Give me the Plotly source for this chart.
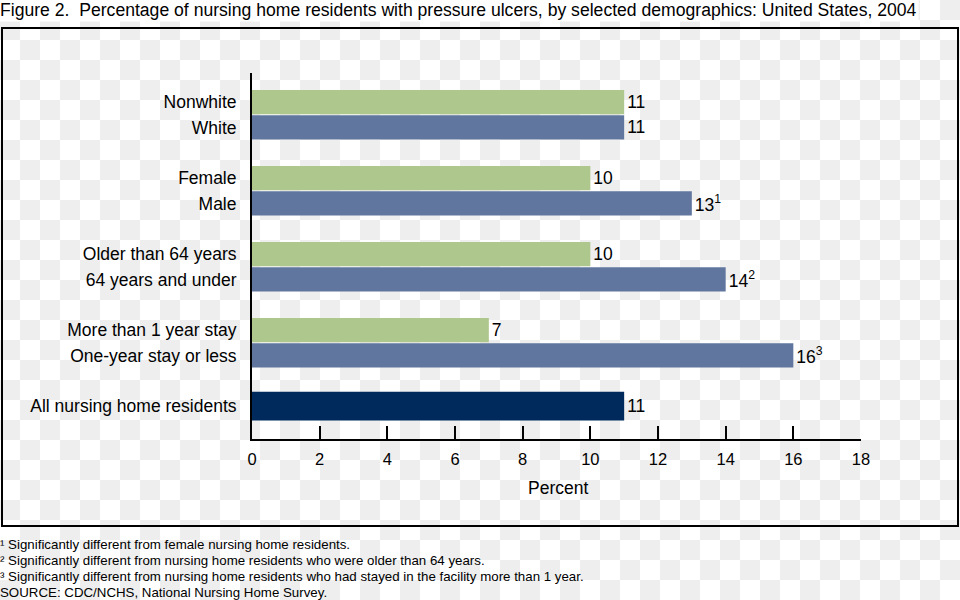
import base64
import plotly.graph_objects as go

# ---- data ----
green_labels = ["Nonwhite", "Female", "Older than 64 years", "More than 1 year stay"]
green_values = [11, 10, 10, 7]
blue_labels = ["White", "Male", "64 years and under", "One-year stay or less"]
blue_values = [11, 13, 14, 16]
blue_notes = ["", "1", "2", "3"]
all_label = ["All nursing home residents"]
all_values = [11]
x_ticks = [0, 2, 4, 6, 8, 10, 12, 14, 16, 18]

title = ("Figure 2.  Percentage of nursing home residents with pressure ulcers, "
         "by selected demographics: United States, 2004")
footnotes = [
    "\u00b9 Significantly different from female nursing home residents.",
    "\u00b2 Significantly different from nursing home residents who were older than 64 years.",
    "\u00b3 Significantly different from nursing home residents who had stayed in the facility more than 1 year.",
    "SOURCE: CDC/NCHS, National Nursing Home Survey.",
]

GREEN = "#aec78c"
BLUE = "#61769f"
NAVY = "#002a5c"
FONT = "Liberation Sans, Arial, sans-serif"
LABEL_SIZE = 17.5

# category order with blank spacers between groups
order = []
for i, (g, b) in enumerate(zip(green_labels, blue_labels)):
    order += [g, b, " " * (i + 1)]
order += all_label

W, H = 960, 600
def px(x):
    return x / W
def py(y):
    return 1 - y / H

textfont = dict(size=LABEL_SIZE, color="black", family=FONT)

fig = go.Figure()
fig.add_trace(go.Bar(
    y=green_labels, x=green_values, orientation="h", marker_color=GREEN,
    marker_line_width=0, width=0.96,
    text=[str(v) for v in green_values], textposition="outside",
    cliponaxis=False, textfont=textfont, hoverinfo="skip"))
fig.add_trace(go.Bar(
    y=blue_labels, x=blue_values, orientation="h", marker_color=BLUE,
    marker_line_width=0, width=0.96,
    text=[f"{v}<sup>{n}</sup>" if n else str(v) for v, n in zip(blue_values, blue_notes)],
    textposition="outside",
    cliponaxis=False, textfont=textfont, hoverinfo="skip"))
fig.add_trace(go.Bar(
    y=all_label, x=all_values, orientation="h", marker_color=NAVY,
    marker_line_width=0, width=1.14,
    text=[str(v) for v in all_values], textposition="outside",
    cliponaxis=False, textfont=textfont, hoverinfo="skip"))

checker = ('<svg xmlns="http://www.w3.org/2000/svg" width="960" height="600">'
           '<defs><pattern id="c" width="40" height="40" patternUnits="userSpaceOnUse">'
           '<rect width="40" height="40" fill="#ffffff"/>'
           '<rect x="20" y="0" width="20" height="20" fill="#eeeeee"/>'
           '<rect x="0" y="20" width="20" height="20" fill="#eeeeee"/>'
           '</pattern></defs><rect width="960" height="600" fill="url(#c)"/></svg>')
src = "data:image/svg+xml;base64," + base64.b64encode(checker.encode()).decode()

footnote_y = [544, 560, 576, 592]
annotations = [
    dict(text=title, xref="paper", yref="paper", x=px(-2), y=py(10),
         xanchor="left", yanchor="middle", showarrow=False,
         bgcolor="white", borderpad=1,
         font=dict(size=17.6, family=FONT, color="black")),
    dict(text="Percent", xref="paper", yref="paper", x=px(558), y=py(488),
         xanchor="center", yanchor="middle", showarrow=False,
         font=dict(size=LABEL_SIZE, family=FONT, color="black")),
]
for line, yy in zip(footnotes, footnote_y):
    annotations.append(dict(text=line, xref="paper", yref="paper",
                            x=px(-2), y=py(yy), xanchor="left", yanchor="middle",
                            align="left", showarrow=False,
                            font=dict(size=13.3, family=FONT, color="black")))

fig.update_layout(
    width=W, height=H, autosize=False,
    margin=dict(l=0, r=0, t=0, b=0, pad=0),
    paper_bgcolor="white", plot_bgcolor="rgba(0,0,0,0)",
    showlegend=False, barmode="overlay",
    font=dict(family=FONT, color="black", size=16),
    images=[dict(source=src, xref="paper", yref="paper", x=0, y=1,
                 sizex=1, sizey=1, xanchor="left", yanchor="top",
                 sizing="stretch", layer="below")],
    xaxis=dict(domain=[px(252), px(861)], range=[0, 18], tickvals=x_ticks,
               ticks="inside", ticklen=13, tickwidth=2, tickcolor="black",
               showline=True, linewidth=2, linecolor="black",
               showgrid=False, zeroline=False, fixedrange=True,
               automargin=False, ticklabelstandoff=4,
               tickfont=dict(size=16.5, family=FONT, color="black")),
    yaxis=dict(domain=[py(439), py(73)], type="category",
               categoryorder="array", categoryarray=order,
               range=[13.3, -1.15], ticks="", showline=True, linewidth=2,
               linecolor="black", showgrid=False, zeroline=False, fixedrange=True,
               automargin=False, ticklabelstandoff=10,
               tickfont=dict(size=LABEL_SIZE, family=FONT, color="black")),
    shapes=[dict(type="rect", xref="paper", yref="paper",
                 x0=px(2), x1=px(958), y0=py(526), y1=py(28),
                 line=dict(color="black", width=2), fillcolor="rgba(0,0,0,0)")],
    annotations=annotations,
)

fig.write_html(
    "out.html",
    config={"displayModeBar": False, "responsive": False, "staticPlot": True},
    post_script=("var s=document.createElement('style');"
                 "s.textContent='html,body{margin:0;padding:0;overflow:hidden}';"
                 "document.head.appendChild(s);"),
)
